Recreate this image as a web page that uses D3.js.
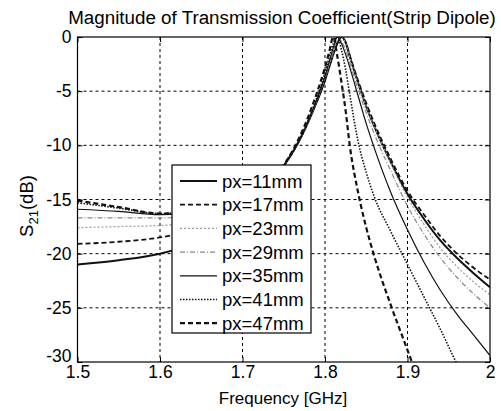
<!DOCTYPE html>
<html>
<head>
<meta charset="utf-8">
<script src="https://cdn.jsdelivr.net/npm/d3@7"></script>
<style>
  body { margin: 0; background: #fff; }
  svg { font-family: "Liberation Sans", Arial, sans-serif; }
</style>
</head>
<body>
<div id="chart"></div>
<script>
// frequency grid (GHz)
var freq = [1.50, 1.55, 1.60, 1.65, 1.70, 1.73, 1.75, 1.77, 1.79, 1.80, 1.805, 1.81, 1.815, 1.82, 1.825, 1.83, 1.84, 1.85, 1.86, 1.88, 1.90, 1.92, 1.94, 1.96, 1.98, 2.00];

// S21 (dB)
var px11 = [-21.0, -20.6, -20.0, -18.8, -16.5, -14.0, -11.9, -9.4, -6.0, -4.0, -2.8, -1.6, -0.6, 0, -0.5, -1.8, -4.2, -6.4, -8.3, -11.6, -14.5, -16.8, -18.8, -20.4, -21.8, -23.1];
var px17 = [-19.1, -18.9, -18.5, -17.6, -15.8, -13.8, -11.9, -9.4, -5.9, -3.9, -2.7, -1.5, -0.5, 0, -0.5, -1.7, -4.0, -6.1, -8.0, -11.3, -14.2, -16.4, -18.4, -20.0, -21.3, -22.4];
var px23 = [-17.6, -17.5, -17.4, -16.9, -15.4, -13.7, -11.9, -9.4, -5.9, -3.8, -2.6, -1.4, -0.3, 0, -0.6, -1.9, -4.3, -6.4, -8.3, -11.7, -14.8, -17.3, -19.5, -21.2, -22.6, -23.8];
var px29 = [-16.7, -16.7, -16.7, -16.3, -15.0, -13.5, -11.9, -9.4, -5.8, -3.7, -2.5, -1.3, 0, -0.4, -1.2, -2.4, -4.8, -7.0, -9.0, -12.4, -15.6, -18.2, -20.4, -22.2, -23.7, -25.0];
var px35 = [-15.9, -16.1, -16.4, -16.0, -14.8, -13.4, -11.9, -9.4, -5.8, -3.6, -2.3, -1.0, 0, -0.6, -1.6, -2.8, -5.4, -8.0, -10.3, -14.4, -17.8, -20.8, -23.4, -25.6, -27.5, -29.4];
var px41 = [-15.3, -15.8, -16.3, -15.9, -14.7, -13.3, -11.9, -9.3, -5.6, -3.3, -1.9, -0.6, 0, -1.2, -3.0, -5.3, -9.6, -12.5, -14.8, -18.0, -21.0, -24.0, -27.0, -30.2, -33.2, -36.2];
var px47 = [-15.1, -15.7, -16.3, -15.9, -14.7, -13.2, -11.8, -9.1, -5.2, -2.8, -1.4, 0, -1.8, -4.2, -6.8, -10.0, -14.3, -17.6, -20.3, -24.8, -28.9, -33.0, -37.0, -41.0, -45.0, -49.0];

var names = ["px=11mm", "px=17mm", "px=23mm", "px=29mm", "px=35mm", "px=41mm", "px=47mm"];
var xTicks = [1.5, 1.6, 1.7, 1.8, 1.9, 2];
var yTicks = [0, -5, -10, -15, -20, -25, -30];

var styles = [
  {color: "#111", width: 2,   dash: null},
  {color: "#111", width: 1.8, dash: "5,3"},
  {color: "#999", width: 1.2, dash: "2,2"},
  {color: "#888", width: 1.2, dash: "5,2,1,2"},
  {color: "#111", width: 1.2, dash: null},
  {color: "#111", width: 1.6, dash: "1.5,1.5"},
  {color: "#111", width: 2.2, dash: "5,3"}
];
var series = [px11, px17, px23, px29, px35, px41, px47];

var W = 501, H = 411;
var m = {left: 77.5, right: 490, top: 37, bottom: 362};

var svg = d3.select("#chart").append("svg")
    .attr("width", W)
    .attr("height", H);

var x = d3.scaleLinear().domain([1.5, 2]).range([m.left, m.right]);
var y = d3.scaleLinear().domain([-30, 0]).range([m.bottom, m.top]);

// grid
svg.append("g").selectAll("line")
   .data(xTicks.slice(1, -1))
   .join("line")
   .attr("x1", d => x(d)).attr("x2", d => x(d))
   .attr("y1", m.top).attr("y2", m.bottom)
   .attr("stroke", "#000").attr("stroke-width", 1)
   .attr("stroke-dasharray", "3,3");
svg.append("g").selectAll("line")
   .data(yTicks.slice(1, -1))
   .join("line")
   .attr("y1", d => y(d)).attr("y2", d => y(d))
   .attr("x1", m.left).attr("x2", m.right)
   .attr("stroke", "#000").attr("stroke-width", 1)
   .attr("stroke-dasharray", "3,3");

// clip for curves
svg.append("clipPath").attr("id", "clip")
   .append("rect")
   .attr("x", m.left).attr("y", m.top)
   .attr("width", m.right - m.left).attr("height", m.bottom - m.top);

var line = d3.line()
    .x((d, i) => x(freq[i]))
    .y(d => y(d))
    .curve(d3.curveMonotoneX);

svg.append("g").attr("clip-path", "url(#clip)")
   .selectAll("path")
   .data(series)
   .join("path")
   .attr("d", d => line(d))
   .attr("fill", "none")
   .attr("stroke", (d, i) => styles[i].color)
   .attr("stroke-width", (d, i) => styles[i].width)
   .attr("stroke-dasharray", (d, i) => styles[i].dash);

// axes (ticks on all four sides, labels on bottom/left)
var fmt = d => String(d);
svg.append("g")
   .attr("transform", "translate(0," + m.bottom + ")")
   .call(d3.axisBottom(x).tickValues(xTicks).tickFormat(fmt).tickSizeInner(-5).tickSizeOuter(0).tickPadding(4));
svg.append("g")
   .attr("class", "ylab")
   .attr("transform", "translate(" + m.left + ",0)")
   .call(d3.axisLeft(y).tickValues(yTicks).tickFormat(fmt).tickSizeInner(-5).tickSizeOuter(0).tickPadding(6));
svg.append("g")
   .attr("transform", "translate(0," + m.top + ")")
   .call(d3.axisTop(x).tickValues(xTicks).tickFormat("").tickSizeInner(-5).tickSizeOuter(0));
svg.append("g")
   .attr("transform", "translate(" + m.right + ",0)")
   .call(d3.axisRight(y).tickValues(yTicks).tickFormat("").tickSizeInner(-5).tickSizeOuter(0));
svg.selectAll(".domain").remove();
svg.selectAll(".tick line").attr("stroke", "#000");
svg.selectAll(".tick text")
   .attr("fill", "#000")
   .style("font-size", "17.5px")
   .style("font-family", "'Liberation Sans', Arial, sans-serif");
// lift the -30 label off the corner like the original
svg.selectAll(".ylab .tick text").filter(d => d === -30).attr("y", -6);

// box
svg.append("rect")
   .attr("x", m.left).attr("y", m.top)
   .attr("width", m.right - m.left).attr("height", m.bottom - m.top)
   .attr("fill", "none").attr("stroke", "#000").attr("stroke-width", 1.2);

// title
svg.append("text")
   .attr("x", 282).attr("y", 24)
   .attr("text-anchor", "middle")
   .style("font-size", "18.8px")
   .text("Magnitude of Transmission Coefficient(Strip Dipole)");

// axis labels
svg.append("text")
   .attr("x", 283).attr("y", 404)
   .attr("text-anchor", "middle")
   .style("font-size", "17px")
   .text("Frequency [GHz]");

var yl = svg.append("text")
   .attr("transform", "translate(33,206) rotate(-90)")
   .attr("text-anchor", "middle")
   .style("font-size", "18.5px");
yl.append("tspan").text("S");
yl.append("tspan").attr("dy", 5).style("font-size", "13px").text("21");
yl.append("tspan").attr("dy", -5).text("(dB)");

// legend
var lg = {x: 172, y: 165, w: 139, h: 168};
svg.append("rect")
   .attr("x", lg.x).attr("y", lg.y)
   .attr("width", lg.w).attr("height", lg.h)
   .attr("fill", "#fff").attr("stroke", "#000").attr("stroke-width", 1.2);

var rows = svg.append("g").selectAll("g")
   .data(names)
   .join("g")
   .attr("transform", (d, i) => "translate(0," + (181 + i * 23.7) + ")");
rows.append("line")
   .attr("x1", 180).attr("x2", 217)
   .attr("stroke", (d, i) => styles[i].color)
   .attr("stroke-width", (d, i) => styles[i].width)
   .attr("stroke-dasharray", (d, i) => styles[i].dash);
rows.append("text")
   .attr("x", 222).attr("y", 6.5)
   .style("font-size", "18.5px")
   .text(d => d);
</script>
</body>
</html>
